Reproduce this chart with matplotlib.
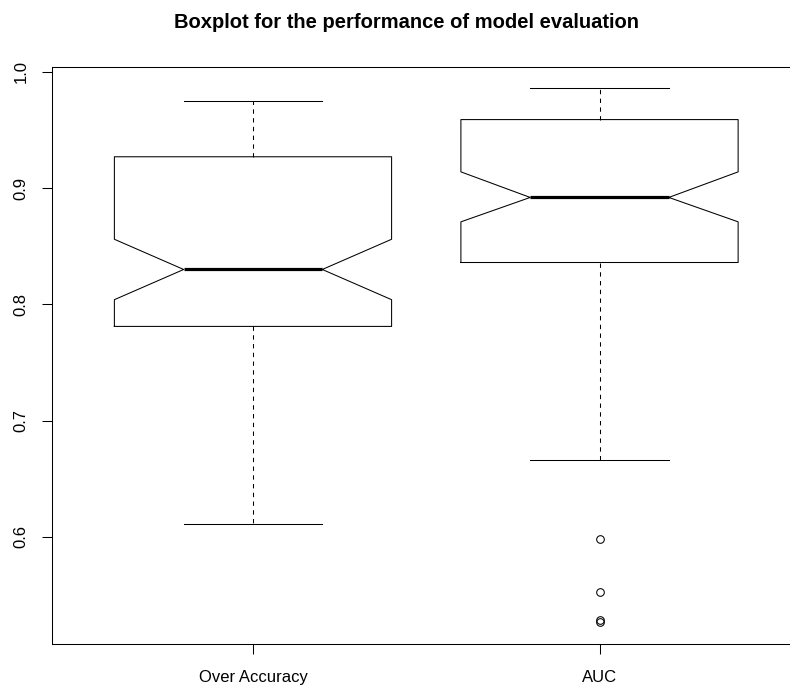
import matplotlib
matplotlib.use("Agg")
import matplotlib.pyplot as plt

# -------------------- Data --------------------
labels = ["Over Accuracy", "AUC"]
q1 = [0.781, 0.836]
med = [0.830, 0.892]
q3 = [0.927, 0.959]
whislo = [0.611, 0.666]
whishi = [0.975, 0.986]
cilo = [0.804, 0.871]
cihi = [0.856, 0.914]
fliers = [[], [0.598, 0.552, 0.528, 0.5265]]

plt.rcParams['font.family'] = ['Liberation Sans', 'DejaVu Sans']

# -------------------- Figure --------------------
fig = plt.figure(figsize=(7.9, 6.85), dpi=100)
W, H = 790, 685
ax = fig.add_axes([52 / W, 1 - 643.5 / H, (800.5 - 52) / W, (643.5 - 67.3) / H])

stats = []
for i in range(len(labels)):
    stats.append({
        "label": labels[i], "q1": q1[i], "med": med[i], "q3": q3[i],
        "whislo": whislo[i], "whishi": whishi[i],
        "cilo": cilo[i], "cihi": cihi[i], "fliers": fliers[i],
    })

ax.bxp(stats, positions=[1, 2], widths=0.8, shownotches=True,
       boxprops=dict(color="black", linewidth=0.75),
       medianprops=dict(color="black", linewidth=2.3, solid_capstyle="butt"),
       whiskerprops=dict(color="black", linewidth=0.75, linestyle=(0, (4.2, 4.2))),
       capprops=dict(color="black", linewidth=0.75),
       flierprops=dict(marker="o", markerfacecolor="none", markeredgecolor="black",
                       markersize=5.5, markeredgewidth=0.75))

ax.set_xlim(0.42, 2.58)
ax.set_ylim(0.5081, 1.0040)
ax.set_yticks([0.6, 0.7, 0.8, 0.9, 1.0])
ax.set_yticklabels(["0.6", "0.7", "0.8", "0.9", "1.0"], rotation=90, va="center")
ax.set_xticks([1, 2])
ax.set_xticklabels(labels)

for s in ax.spines.values():
    s.set_linewidth(0.75)
ax.tick_params(axis="both", length=7, width=0.75, labelsize=12, colors="black")
ax.tick_params(axis="x", pad=12)
ax.tick_params(axis="y", pad=10)

fig.text(406.5 / W, 1 - 22 / H, "Boxplot for the performance of model evaluation",
         ha="center", va="center", fontsize=14.5, fontweight="bold")

fig.savefig("out.png", dpi=100)
